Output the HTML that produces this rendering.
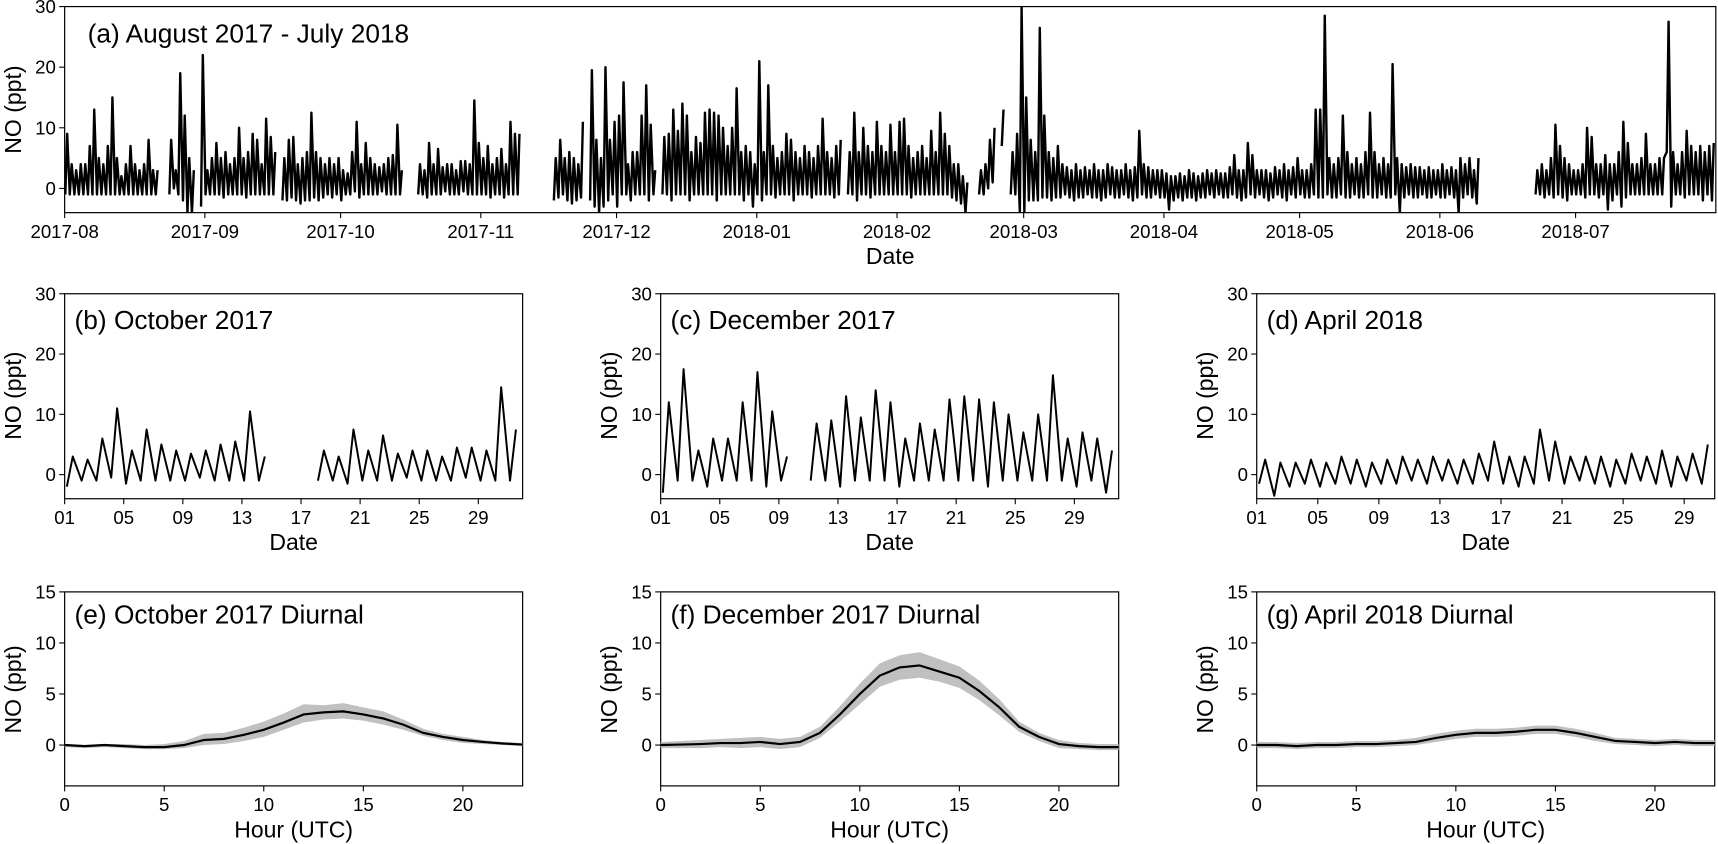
<!DOCTYPE html>
<html><head><meta charset="utf-8"><style>
body{margin:0;background:#fff;}
svg{display:block;font-family:"Liberation Sans","DejaVu Sans",sans-serif;}
</style></head><body>
<svg id="fig" width="1718" height="844" viewBox="0 0 1568 770" preserveAspectRatio="none"></svg>
<script>
// ---- monthly daily max (hi) / min (lo) NO values, ppt ----
const augHi=[9,4,3,4,4,7,13,5,4,7,15,5,2,4,7,4,3,4,8,3,3,null,null,8,3,19,12,5,3,null,22];
const augLo=[-1,-1,-1,-1,-1,-1,-1,-1,-1,-1,-1,-1,-1,-1,-1,-1,-1,-1,-1,-1,-1,null,null,-1,0,-1,-2,-4,-4,null,-3];
const sepHi=[3,5,7.5,5,6,4,5,10,5,6,9,8,4,11.5,8.5,6,null,5,8,8.5,4,5,6,12.5,6,5,4,5,4,5];
const sepLo=[-1,-1,-1,-1,-1.5,-1,-1,-1,-1,-1.5,-1,-1,-1,-1,-1,-1,null,-2,-2,-1.5,-2,-2.5,-2,-2,-1.5,-2,-1.5,-1,-1.5,-1];
const octHi=[3,2.5,6,11,4,7.5,5,4,3.5,4,5,5.5,10.5,3,null,null,null,4,3,7.5,4,6.5,3.5,4,4,3,4.5,4.5,4,14.5,7.5];
const octLo=[-2,-1,-1,-0.5,-1.5,-1,-1,-1,-1,-0.5,-1,-1,-1,-1,null,null,null,-1,-1,-1.5,-1,-1,-1,-0.5,-1,-1,-1,-0.5,-1,-1,-1];
const novHi=[5,7,4,5,6.5,4,11,9,9,null,null,null,null,null,null,null,5,8,5,6,5,4,11,null,19.5,8,5,20,8,11];
const novLo=[-1,-1,-1.5,-1,-1,-1.5,-1,-1,-1,null,null,null,null,null,null,null,-2,-1.5,-1,-2,-2.5,-2,-1.5,null,-2,-3,-4,-3,-2,-1];
const decHi=[12,17.5,4,6,6,12,17,10.5,3,null,8.5,9,13,9.5,14,12,6,8.5,7.5,12.5,13,12.5,12,10,7,10,16.5,6,7,6,4];
const decLo=[-3,-1,-1,-2,-1,-1,-1,-2,-1,null,-1,-1,-2,-1,-1,-1,-2,-1,-1,-1,-1,-1,-2,-1,-1,-1,-1,-1,-2,-1,-3];
const janHi=[21,6,17,7,5,6,9,8,6,5,7,6,5,7,11.5,6,5,7,8,null,6,12.5,6,10,7,6,11,7,6,10.5,6];
const janLo=[-1,-2,-1,-1,-1.5,-1,-1,-1,-2,-1,-1,-1,-1.5,-1,-1,-1,-1,-1.5,-1,null,-1,-1,-2,-1,-1,-1.5,-1,-1,-1,-1,-1];
const febHi=[11,11.5,7,5,6,7,5,9.5,6,12.5,9,7,4,4,2,1,null,null,3,4,8,10,null,13,null,6,9,30];
const febLo=[-1,-1,-1,-1.5,-1,-1,-1,-1,-1,-1,-1,-1,-1.5,-2,-2.5,-4,null,null,-1,-1,0,1,null,7,null,-1,-1,-4];
const marHi=[15,8,6,26.5,12,6,5,7,4,3.5,3,4,3,3.5,3,4,3,3,4,3.5,3,3,4,3,3.5,9.5,4,3.5,3,3,3];
const marLo=[-4,-2,-2,-2,-1.5,-1.5,-2,-1.5,-1.5,-1,-1.5,-2,-1.5,-1.5,-1,-1.5,-1.5,-2,-1.5,-1,-1.5,-1.5,-1,-1.5,-2,-1.5,-1,-1.5,-1.5,-1,-1.5];
const aprHi=[2.5,2,2,2.5,2,3,2.5,2,2.5,3,2.5,3,2.5,2.5,3.5,5.5,3,3,7.5,5.5,3,3,3,2.5,3.5,3,4,3,3.5,5];
const aprLo=[-1.5,-3.5,-2,-1.5,-2,-1.5,-1.5,-2,-1.5,-1.5,-1,-1.5,-1,-1.5,-1.5,-1,-1.5,-2,-1.5,-1,-1.5,-1,-1.5,-2,-1.5,-1,-1.5,-2,-1,-1.5];
const mayHi=[3,3,4,13,13,28.5,5,4,5,12,6,4,5,4,6,12.5,6,4,5,4,20.5,5,4,3.5,4,3.5,3.5,3,3.5,3,3];
const mayLo=[-1,-1.5,-1.5,-1,-1.5,-1.5,-1,-1.5,-1.5,-1,-1.5,-1.5,-1,-1.5,-1.5,-1,-1.5,-1.5,-1,-1.5,-1.5,-1,-4,-1.5,-1,-1.5,-1.5,-1,-1.5,-1.5,-1];
const junHi=[4,3,3.5,3,5,4,5,3,5,null,null,null,null,null,null,null,null,null,null,null,null,3,4,3,5,10.5,7,5,4,3];
const junLo=[-1.5,-1.5,-1,-1.5,-4,-1.5,-1,-1.5,-2.5,null,null,null,null,null,null,null,null,null,null,null,null,-1,-1,-1.5,-1,-1.5,-1,-1.5,-2,-1];
const julHi=[3,4,10,8.5,4,4,5.5,4,4,6,11,7.5,4,4,5,9,4,4,5,5,27.5,6,4,6,9.5,7,6,7,6,7,7.5];
const julLo=[-1,-1,-1.5,-1,-1,-1.5,-1,-3.5,-2,-1,-3,-1.5,-1,-1,-1,-1,-1,-1,-1,-1,6,-3,-1,-1,-1.5,-1,-1,-1,-2,-1,-2];
const monthTicks=['2017-08','2017-09','2017-10','2017-11','2017-12','2018-01','2018-02','2018-03','2018-04','2018-05','2018-06','2018-07'];
const dayTicks=['01','05','09','13','17','21','25','29'];
// ---- diurnal means and bands ----
const hours=[0,1,2,3,4,5,6,7,8,9,10,11,12,13,14,15,16,17,18,19,20,21,22,23];
const octMean=[0,-0.1,0,-0.1,-0.2,-0.2,0,0.5,0.6,1,1.5,2.2,3,3.2,3.3,3,2.6,2,1.2,0.8,0.5,0.3,0.15,0.05];
const octUp=[0.1,0,0.1,0.1,0,0.1,0.4,1.1,1.2,1.7,2.3,3.1,4,3.9,4.1,3.7,3.3,2.5,1.6,1.1,0.8,0.5,0.3,0.2];
const octDn=[-0.2,-0.3,-0.2,-0.3,-0.4,-0.4,-0.3,0,0.1,0.4,0.8,1.5,2.2,2.5,2.6,2.4,2,1.5,0.9,0.5,0.2,0.1,0,-0.1];
const decMean=[0,0.05,0.1,0.2,0.2,0.3,0.1,0.3,1.2,3,5,6.8,7.6,7.8,7.2,6.6,5.3,3.7,1.8,0.8,0.1,-0.1,-0.2,-0.2];
const decUp=[0.3,0.4,0.5,0.6,0.7,0.8,0.6,0.8,1.8,3.8,6,8,8.8,9.1,8.4,7.7,6.3,4.5,2.3,1.2,0.5,0.2,0.1,0.1];
const decDn=[-0.3,-0.3,-0.3,-0.2,-0.3,-0.2,-0.4,-0.2,0.7,2.3,4,5.7,6.4,6.6,6.2,5.6,4.4,2.9,1.3,0.4,-0.3,-0.4,-0.5,-0.5];
const aprMean=[0,0,-0.1,0,0,0.1,0.1,0.2,0.3,0.7,1,1.2,1.2,1.3,1.5,1.5,1.2,0.8,0.4,0.3,0.2,0.3,0.2,0.2];
const aprUp=[0.3,0.3,0.2,0.3,0.3,0.4,0.4,0.5,0.7,1.1,1.4,1.6,1.6,1.7,1.9,1.9,1.6,1.2,0.7,0.6,0.5,0.6,0.5,0.5];
const aprDn=[-0.3,-0.3,-0.4,-0.3,-0.3,-0.2,-0.2,-0.1,0,0.3,0.6,0.8,0.8,0.9,1.1,1.1,0.8,0.4,0.1,0,-0.1,0,-0.1,-0.1];
const hourTicks=[0,5,10,15,20];

const yearHi=[].concat(augHi,sepHi,octHi,novHi,decHi,janHi,febHi,marHi,aprHi,mayHi,junHi,julHi);
const yearLo=[].concat(augLo,sepLo,octLo,novLo,decLo,janLo,febLo,marLo,aprLo,mayLo,junLo,julLo);
const monthLens=[31,30,31,30,31,31,28,31,30,31,30,31];

const NS='http://www.w3.org/2000/svg';
const svg=document.getElementById('fig');
function mk(tag,attrs,parent){const e=document.createElementNS(NS,tag);for(const k in attrs)e.setAttribute(k,attrs[k]);(parent||svg).appendChild(e);return e;}
function txt(s,x,y,size,anchor,parent,rot){const t=mk('text',{x:x,y:y,'font-size':size,'text-anchor':anchor||'middle',fill:'#000'},parent);if(rot)t.setAttribute('transform','rotate(-90 '+x+' '+y+')');t.textContent=s;return t;}
function lin(d0,d1,r0,r1){return v=>r0+(v-d0)*(r1-r0)/(d1-d0);}

function axesBox(name,L,T,R,B){
  const g=mk('g',{});
  
  
  const r=mk('rect',{x:L,y:T,width:R-L,height:B-T,fill:'none',stroke:'#000','stroke-width':1.1},g);
  
  
  return g;
}
function yTicks(g,L,ys,vals){
  vals.forEach(v=>{const y=ys(v);mk('line',{x1:L-5,x2:L,y1:y,y2:y,stroke:'#000','stroke-width':1},g);
    const t=txt(String(v),L-8,y+6,17,'end',g);
    
    });
}
function xTick(g,x,B,label){mk('line',{x1:x,x2:x,y1:B,y2:B+5,stroke:'#000','stroke-width':1},g);
  const t=txt(label,x,B+23,17,'middle',g);
  
  }
function zigzag(g,hi,lo,xs,ys,offset,name,w){
  let d='',pen=false;
  for(let i=0;i<hi.length;i++){
    if(hi[i]===null||lo[i]===null){pen=false;continue;}
    d+=(pen?'L':'M')+xs(i+offset+0.15).toFixed(1)+','+ys(lo[i]).toFixed(1);
    d+='L'+xs(i+offset+0.55).toFixed(1)+','+ys(hi[i]).toFixed(1);
    pen=true;
  }
  const p=mk('path',{d:d,fill:'none',stroke:'#000','stroke-width':w,'stroke-linejoin':'round'},g);
  
  
}

// ---- Panel (a) ----
(function(){
  const L=59,T=6,R=1566,B=194;
  const g=axesBox('panel-a-year',L,T,R,B);
  const xs=lin(0,365,L,R), ys=lin(-4,30,B,T);
  const clip=mk('clipPath',{id:'ca'},g);mk('rect',{x:L,y:T,width:R-L,height:B-T},clip);
  const sg=mk('g',{'clip-path':'url(#ca)'},g);
  zigzag(sg,yearHi,yearLo,xs,ys,0,'year-no-series',2.2);
  yTicks(g,L,ys,[0,10,20,30]);
  let d=0;monthTicks.forEach((m,i)=>{xTick(g,xs(d),B,m);d+=monthLens[i];});
  const xt=txt('Date',(L+R)/2,241,21,'middle',g);
  const yt=txt('NO (ppt)',19,100,21,'middle',g,true);
  const tt=txt('(a) August 2017 - July 2018',80,39,24,'start',g);
})();

// ---- Panels (b)-(d) ----
function monthPanel(name,title,L,hi,lo,dmax,cid){
  const T=268,B=455,R=L+418;
  const g=axesBox(name,L,T,R,B);
  const xs=lin(1,dmax,L,R), ys=lin(-4,30,B,T);
  const clip=mk('clipPath',{id:cid},g);mk('rect',{x:L,y:T,width:R-L,height:B-T},clip);
  const sg=mk('g',{'clip-path':'url(#'+cid+')'},g);
  zigzag(sg,hi,lo,xs,ys,1,'month-no-series',1.8);
  yTicks(g,L,ys,[0,10,20,30]);
  dayTicks.forEach(s=>xTick(g,xs(parseInt(s,10)),B,s));
  const xt=txt('Date',(L+R)/2,502,21,'middle',g);
  const yt=txt('NO (ppt)',L-40,361,21,'middle',g,true);
  const tt=txt(title,L+9,300,24,'start',g);
}
monthPanel('panel-b-october','(b) October 2017',59,octHi,octLo,32,'cb');
monthPanel('panel-c-december','(c) December 2017',603,decHi,decLo,32,'cc');
monthPanel('panel-d-april','(d) April 2018',1147,aprHi,aprLo,31,'cd');

// ---- Panels (e)-(g) ----
function diurnalPanel(name,title,L,mean,up,dn){
  const T=540,B=717,R=L+418;
  const g=axesBox(name,L,T,R,B);
  const xs=lin(0,23,L,R), ys=lin(-4,15,B,T);
  let band='';
  hours.forEach((h,i)=>{band+=(i?'L':'M')+xs(h).toFixed(1)+','+ys(up[i]).toFixed(1);});
  for(let i=hours.length-1;i>=0;i--)band+='L'+xs(hours[i]).toFixed(1)+','+ys(dn[i]).toFixed(1);
  const bp=mk('path',{d:band+'Z',fill:'#c0c0c0',stroke:'none'},g);
  
  
  let d='';hours.forEach((h,i)=>{d+=(i?'L':'M')+xs(h).toFixed(1)+','+ys(mean[i]).toFixed(1);});
  const lp=mk('path',{d:d,fill:'none',stroke:'#000','stroke-width':2},g);
  
  
  yTicks(g,L,ys,[0,5,10,15]);
  hourTicks.forEach(h=>xTick(g,xs(h),B,String(h)));
  const xt=txt('Hour (UTC)',(L+R)/2,764,21,'middle',g);
  const yt=txt('NO (ppt)',L-40,629,21,'middle',g,true);
  const tt=txt(title,L+9,569,24,'start',g);
}
diurnalPanel('panel-e-october-diurnal','(e) October 2017 Diurnal',59,octMean,octUp,octDn);
diurnalPanel('panel-f-december-diurnal','(f) December 2017 Diurnal',603,decMean,decUp,decDn);
diurnalPanel('panel-g-april-diurnal','(g) April 2018 Diurnal',1147,aprMean,aprUp,aprDn);
</script>
</body></html>
